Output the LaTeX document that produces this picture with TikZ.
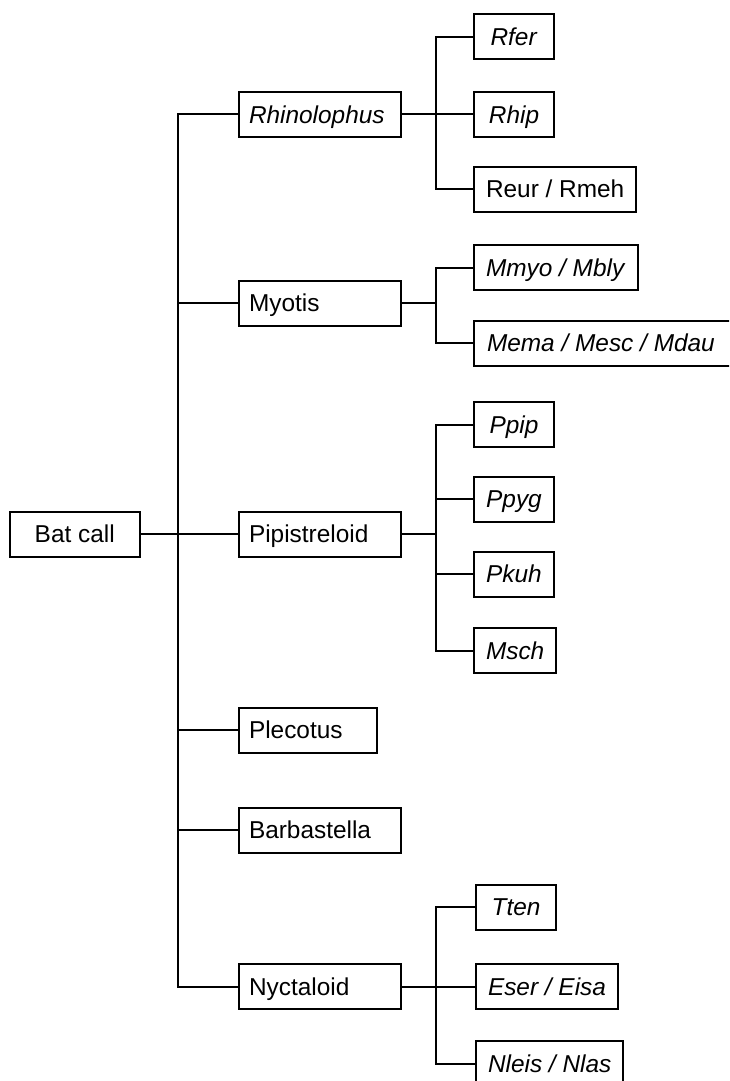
\documentclass[tikz,border=0pt]{standalone}
\usepackage{fontspec}
\setmainfont{Liberation Sans}
\usetikzlibrary{positioning}
\tikzset{
taxon/.style={draw, line width=1pt, minimum height=22.5pt, inner ysep=0pt,
  text height=8.8pt, text depth=0pt,
  font=\fontsize{12.2pt}{14pt}\selectfont}, % every box in the tree
group/.style={taxon, text width=71pt, inner xsep=5pt, align=left}, % second level, text flush left
species/.style={taxon, minimum width=40pt, inner xsep=6pt}, % leaves
}

\begin{document}
\begin{tikzpicture}[line width=1pt]
        \useasboundingbox (0,0) rectangle (364.5pt,-540.5pt);
        \clip (0,0) rectangle (364.5pt,-540.5pt);

        \node[taxon, minimum width=64.75pt] (bat) at (37.375pt,-267pt) {Bat call};

        % genera and groups
        \node[group, right=48.75pt of bat] (pip) {Pipistreloid};
        \node[group, above=209.75pt of pip.west, anchor=west] (rhino) {\textit{Rhinolophus}};
        \node[group, above=115.5pt of pip.west, anchor=west] (myotis) {Myotis};
        \node[group, text width=59pt, below=98pt of pip.west, anchor=west] (plec) {Plecotus};
        \node[group, below=148pt of pip.west, anchor=west] (barb) {Barbastella};
        \node[group, below=226.25pt of pip.west, anchor=west] (nyct) {Nyctaloid};

        % species
        \node[species, right=35.5pt of rhino] (rhip) {\textit{Rhip}};
        \node[species, above=38.75pt of rhip.west, anchor=west] (rfer) {\textit{Rfer}};
        \node[species, below=37.25pt of rhip.west, anchor=west] (reur) {Reur / Rmeh};

        \node[species, right=35.5pt of myotis, yshift=17.75pt] (mmyo) {\textit{Mmyo / Mbly}};
        \node[species, right=35.5pt of myotis, yshift=-20pt, inner xsep=6.5pt] (mema) {\makebox[187pt][l]{\textit{Mema / Mesc / Mdau}}};

        \node[species, right=35.5pt of pip, yshift=54.75pt] (ppip) {\textit{Ppip}};
        \node[species, right=35.5pt of pip, yshift=17.5pt] (ppyg) {\textit{Ppyg}};
        \node[species, right=35.5pt of pip, yshift=-20pt] (pkuh) {\textit{Pkuh}};
        \node[species, right=35.5pt of pip, yshift=-58.25pt] (msch) {\textit{Msch}};

        \node[species, right=36.5pt of nyct] (eser) {\textit{Eser / Eisa}};
        \node[species, above=39.75pt of eser.west, anchor=west] (tten) {\textit{Tten}};
        \node[species, below=38.5pt of eser.west, anchor=west] (nleis) {\textit{Nleis / Nlas}};

        % root to groups
        \draw (bat.east) -- (pip.west);
        \draw (bat.east) -- ++(18.5pt,0) |- (rhino.west);
        \draw (bat.east) -- ++(18.5pt,0) |- (myotis.west);
        \draw (bat.east) -- ++(18.5pt,0) |- (plec.west);
        \draw (bat.east) -- ++(18.5pt,0) |- (barb.west);
        \draw (bat.east) -- ++(18.5pt,0) |- (nyct.west);

        % groups to species
        \draw (rhino.east) -- (rhip.west);
        \draw (rhino.east) -- ++(16.75pt,0) |- (rfer.west);
        \draw (rhino.east) -- ++(16.75pt,0) |- (reur.west);

        \draw (myotis.east) -- ++(16.75pt,0) |- (mmyo.west);
        \draw (myotis.east) -- ++(16.75pt,0) |- (mema.west);

        \draw (pip.east) -- ++(16.75pt,0) |- (ppip.west);
        \draw (pip.east) -- ++(16.75pt,0) |- (ppyg.west);
        \draw (pip.east) -- ++(16.75pt,0) |- (pkuh.west);
        \draw (pip.east) -- ++(16.75pt,0) |- (msch.west);

        \draw (nyct.east) -- (eser.west);
        \draw (nyct.east) -- ++(16.75pt,0) |- (tten.west);
        \draw (nyct.east) -- ++(16.75pt,0) |- (nleis.west);
\end{tikzpicture}
\end{document}
